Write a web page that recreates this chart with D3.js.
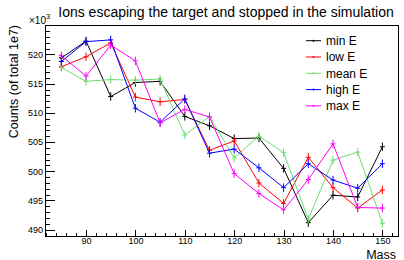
<!DOCTYPE html>
<html>
<head>
<meta charset="utf-8">
<script src="https://cdn.jsdelivr.net/npm/d3@7"></script>
<style>
  body { margin: 0; background: #fff; }
  svg { display: block; font-family: "Liberation Sans", Arial, sans-serif; }
  .axis path, .axis line { stroke: #000; shape-rendering: crispEdges; }
  .axis text { font-size: 9px; fill: #000; }
</style>
</head>
<body>
<svg id="chart" width="404" height="260"></svg>
<script>
// data (counts in units of 1e3)
var mass = [85, 90, 95, 100, 105, 110, 115, 120, 125, 130, 135, 140, 145, 150];
var minE  = [519.4, 522.3, 512.8, 515.2, 515.4, 509.4, 507.8, 505.6, 505.7, 500.5, 491.2, 495.9, 495.6, 504.2];
var lowE  = [517.9, 519.6, 522.0, 512.7, 511.9, 512.3, 503.6, 505.2, 498.0, 494.5, 502.4, 497.2, 493.7, 496.8];
var meanE = [517.8, 515.4, 515.7, 515.6, 515.8, 506.2, 509.4, 502.3, 506.0, 503.2, 491.8, 501.9, 503.3, 491.1];
var highE = [518.8, 522.2, 522.5, 510.8, 508.4, 512.4, 503.1, 503.8, 500.6, 497.2, 501.3, 498.5, 497.1, 501.3];
var maxE  = [519.8, 516.3, 521.6, 518.9, 508.3, 510.6, 509.3, 499.6, 496.2, 493.4, 498.6, 504.7, 493.8, 493.7];
var countErr = 0.72;

var seriesNames = ["min E", "low E", "mean E", "high E", "max E"];
var seriesValues = [minE, lowE, meanE, highE, maxE];
var seriesColors = ["#000000", "#ff0000", "#70dc70", "#0000ff", "#ff00ff"];

var xTicks = [90, 100, 110, 120, 130, 140, 150];
var yTicks = [490, 495, 500, 505, 510, 515, 520];

var margin = { top: 25, right: 6, bottom: 24, left: 45 };
var svg = d3.select("#chart");
var width = +svg.attr("width") - margin.left - margin.right;
var height = +svg.attr("height") - margin.top - margin.bottom;

var x = d3.scaleLinear().domain([81.7, 153.16]).range([0, width]);
var y = d3.scaleLinear().domain([488.92, 525.05]).range([height, 0]);

var g = svg.append("g")
    .attr("transform", "translate(" + margin.left + "," + margin.top + ")");

// frame
g.append("rect")
    .attr("width", width).attr("height", height)
    .attr("fill", "none").attr("stroke", "#000")
    .attr("shape-rendering", "crispEdges");

// minor ticks
var xMinor = d3.range(82, 154, 2).filter(function (v) { return v % 10 !== 0; });
var yMinor = d3.range(489, 526, 1).filter(function (v) { return v % 5 !== 0; });

g.append("g").attr("class", "axis")
    .attr("transform", "translate(0," + height + ")")
    .call(d3.axisTop(x).tickValues(xMinor).tickSize(3).tickFormat(""))
    .call(function (s) { s.select(".domain").remove(); });
g.append("g").attr("class", "axis")
    .attr("transform", "translate(0," + height + ")")
    .call(d3.axisTop(x).tickValues(xTicks).tickSize(6).tickFormat(""))
    .call(function (s) { s.select(".domain").remove(); });
g.append("g").attr("class", "axis")
    .attr("transform", "translate(0," + height + ")")
    .call(d3.axisBottom(x).tickValues(xTicks).tickSize(0).tickPadding(2).tickFormat(d3.format("d")))
    .call(function (s) { s.select(".domain").remove(); });

g.append("g").attr("class", "axis")
    .call(d3.axisRight(y).tickValues(yMinor).tickSize(5).tickFormat(""))
    .call(function (s) { s.select(".domain").remove(); });
g.append("g").attr("class", "axis")
    .call(d3.axisRight(y).tickValues(yTicks).tickSize(10).tickFormat(""))
    .call(function (s) { s.select(".domain").remove(); });
g.append("g").attr("class", "axis")
    .call(d3.axisLeft(y).tickValues(yTicks).tickSize(0).tickPadding(2).tickFormat(d3.format("d")))
    .call(function (s) { s.select(".domain").remove(); });

// series
var line = d3.line()
    .x(function (d) { return x(d[0]); })
    .y(function (d) { return y(d[1]); });

seriesValues.forEach(function (vals, i) {
    var pts = mass.map(function (m, j) { return [m, vals[j]]; });
    var sg = g.append("g");
    sg.append("path")
        .datum(pts)
        .attr("fill", "none")
        .attr("stroke", seriesColors[i])
        .attr("stroke-width", 1)
        .attr("d", line);
    sg.selectAll(".ey")
        .data(pts)
        .enter().append("line")
        .attr("x1", function (d) { return x(d[0]); })
        .attr("x2", function (d) { return x(d[0]); })
        .attr("y1", function (d) { return y(d[1] - countErr); })
        .attr("y2", function (d) { return y(d[1] + countErr); })
        .attr("stroke", seriesColors[i]);
    sg.selectAll(".ex")
        .data(pts)
        .enter().append("line")
        .attr("x1", function (d) { return x(d[0]) - 2.5; })
        .attr("x2", function (d) { return x(d[0]) + 2.5; })
        .attr("y1", function (d) { return y(d[1]); })
        .attr("y2", function (d) { return y(d[1]); })
        .attr("stroke", seriesColors[i]);
});

// legend
var legend = svg.append("g");
seriesNames.forEach(function (name, i) {
    var ly = 40.7 + i * 16.3;
    legend.append("line")
        .attr("x1", 306).attr("x2", 321).attr("y1", ly).attr("y2", ly)
        .attr("stroke", seriesColors[i]);
    legend.append("circle")
        .attr("cx", 313.5).attr("cy", ly).attr("r", 1)
        .attr("fill", seriesColors[i]);
    legend.append("text")
        .attr("x", 326).attr("y", ly + 4.3)
        .attr("font-size", "12px")
        .text(name);
});

// titles
svg.append("text")
    .attr("x", 226).attr("y", 17)
    .attr("text-anchor", "middle")
    .attr("font-size", "14px")
    .text("Ions escaping the target and stopped in the simulation");

svg.append("text")
    .attr("transform", "translate(18,25) rotate(-90)")
    .attr("text-anchor", "end")
    .attr("font-size", "12.5px")
    .text("Counts (of total 1e7)");

svg.append("text")
    .attr("x", 396).attr("y", 258.5)
    .attr("text-anchor", "end")
    .attr("font-size", "12.5px")
    .text("Mass");

var exp = svg.append("text")
    .attr("x", 29).attr("y", 24)
    .attr("font-size", "10px");
exp.append("tspan").text("\u00d710");
exp.append("tspan").attr("dy", -5).attr("font-size", "7.5px").text("3");
</script>
</body>
</html>
